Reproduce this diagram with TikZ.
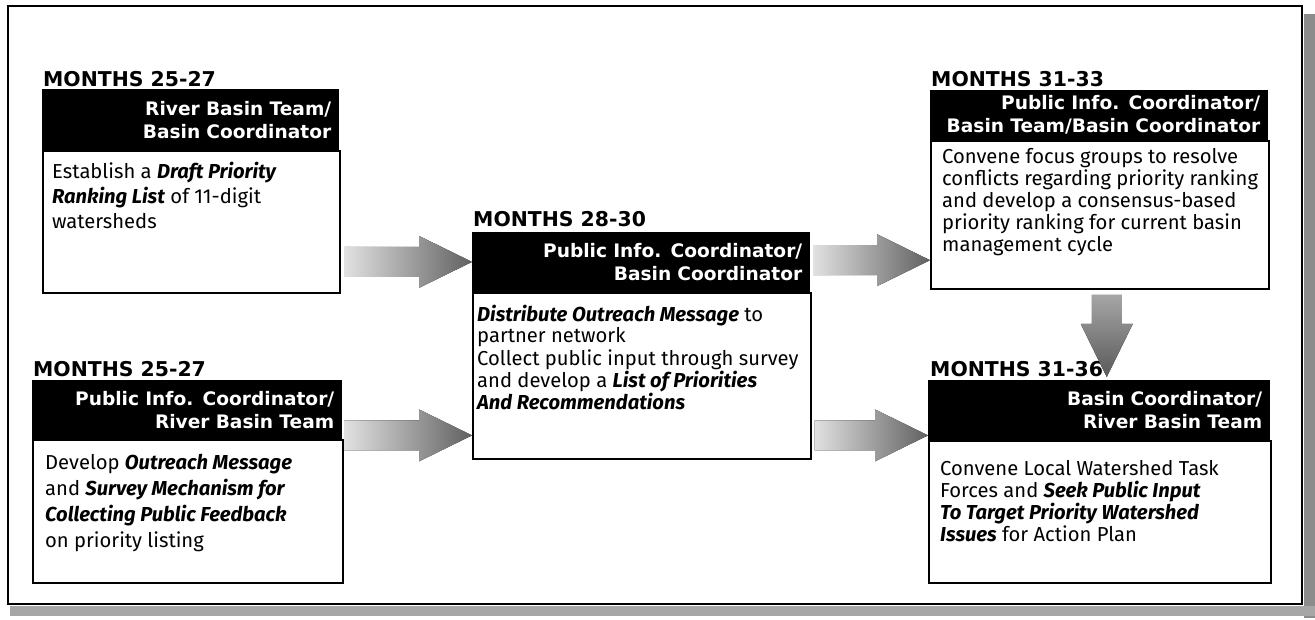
\documentclass[tikz,border=0pt]{standalone}
\usepackage{fontspec}
\setmainfont{Fira Sans}
\newfontfamily\heavy{DejaVu Sans}
\usepackage{tikz}
\usetikzlibrary{calc,positioning}

\newcommand{\key}[1]{\textbf{\textit{#1}}}
% block arrow from tail #2 to tip #3
\newcommand{\fatarrow}[3][]{%
  \coordinate (neck) at ($(#3)!53pt!(#2)$);
  \fill[#1] ($(#2)!15pt!90:(#3)$) -- ($(neck)!15pt!90:(#3)$) -- ($(neck)!26pt!90:(#3)$) -- (#3)
    -- ($(neck)!26pt!-90:(#3)$) -- ($(neck)!15pt!-90:(#3)$) -- ($(#2)!15pt!-90:(#3)$) -- cycle;}

\tikzset{
  months/.style={anchor=base west, inner sep=0pt, font=\heavy\bfseries\fontsize{20.4}{22}\selectfont},
  bar/.style={anchor=north west, fill=black, text=white, inner xsep=8pt, inner ysep=0pt, align=right,
    font=\heavy\bfseries\fontsize{18.6}{23}\selectfont},
  cell/.style={anchor=north west, draw, line width=1.5pt, fill=white, inner sep=0pt},
  celltext/.style={anchor=north west, inner sep=0pt, align=left},
  hshade/.style={left color=black!12, right color=black!62},
  vshade/.style={top color=black!35, bottom color=black!65},
}

\begin{document}
\begin{tikzpicture}[x=1pt,y=-1pt]

\useasboundingbox (0,0) rectangle (1315,620);

% shadow and frame
\fill[black!45] (1304,14) rectangle (1315,618);
\fill[black!35] (10,606) rectangle (1315,616);
\draw[line width=1.5pt, fill=white] (8,6) rectangle (1302,604);

% months 25-27, top
\node[months] (mo1) at (43,87) {MONTHS 25-27};
\node[bar, text width=281pt, minimum width=297pt, minimum height=61pt] (hd1) at (42,89) {River Basin Team/\\Basin Coordinator};
\node[cell, minimum width=297pt, minimum height=142pt] (bx1) at (hd1.south west) {};
\node[celltext, font=\fontsize{20.2}{25}\selectfont, below right=12pt and 10pt of bx1.north west] (tx1)
  {Establish a \key{Draft Priority}\\\key{Ranking List} of 11-digit\\watersheds};

% months 25-27, bottom
\node[months] (mo2) at (33,377) {MONTHS 25-27};
\node[bar, text width=294pt, minimum width=310pt, minimum height=59pt] (hd2) at (32,380) {Public Info. Coordinator/\\River Basin Team};
\node[cell, minimum width=310pt, minimum height=143pt] (bx2) at (hd2.south west) {};
\node[celltext, font=\fontsize{20.2}{26}\selectfont, below right=15pt and 13pt of bx2.north west] (tx2)
  {Develop \key{Outreach Message}\\and \key{Survey Mechanism for}\\\key{Collecting Public Feedback}\\on priority listing};

% months 28-30
\node[months] (mo3) at (473,227) {MONTHS 28-30};
\node[bar, text width=322pt, minimum width=338pt, minimum height=60pt] (hdm) at (472,232) {Public Info. Coordinator/\\Basin Coordinator};
\node[cell, minimum width=338pt, minimum height=166pt] (bxm) at (hdm.south west) {};
\node[celltext, font=\fontsize{20.2}{20.5}\selectfont, below right=13pt and 5pt of bxm.north west] (txm)
  {\key{Distribute Outreach Message} to\\partner network\\[3pt]Collect public input through survey\\and develop a \key{List of Priorities}\\\key{And Recommendations}};

% months 31-33
\node[months] (mo4) at (931,87) {MONTHS 31-33};
\node[bar, text width=322pt, minimum width=338pt, minimum height=50pt] (hd3) at (930,90) {Public Info. Coordinator/\\Basin Team/Basin Coordinator};
\node[cell, minimum width=338pt, minimum height=148pt] (bx3) at (hd3.south west) {};
\node[celltext, font=\fontsize{20.2}{22}\selectfont, below right=8pt and 12pt of bx3.north west] (tx3)
  {Convene focus groups to resolve\\conflicts regarding priority ranking\\and develop a consensus-based\\priority ranking for current basin\\management cycle};

% months 31-36
\node[months] (mo5) at (930,377) {MONTHS 31-36};
\node[bar, text width=326pt, minimum width=342pt, minimum height=60pt] (hd4) at (928,380) {Basin Coordinator/\\River Basin Team};
\node[cell, minimum width=342pt, minimum height=142pt] (bx4) at (hd4.south west) {};
\node[celltext, font=\fontsize{20.2}{22}\selectfont, below right=20pt and 12pt of bx4.north west] (tx4)
  {Convene Local Watershed Task\\Forces and \key{Seek Public Input}\\\key{To Target Priority Watershed}\\\key{Issues} for Action Plan};

% arrows
\coordinate (a1) at ($(bx1.south east)+(4,-32)$);
\coordinate (a2) at ($(hd2.south east)+(2,-4)$);
\coordinate (a3) at ($(hdm.east)+(3,-2)$);
\coordinate (a4) at ($(bxm.east |- a2)+(3,0)$);
\coordinate (a5) at ($(bx3.south)+(7,5)$);
\fatarrow[hshade]{a1}{hdm.west |- a1}
\fatarrow[hshade]{a2}{bxm.west |- a2}
\fatarrow[hshade]{a3}{bx3.west |- a3}
\fatarrow[hshade]{a4}{hd4.west |- a4}
\fatarrow[vshade]{a5}{$(hd4.north -| a5)+(0,-3)$}

\end{tikzpicture}
\end{document}
